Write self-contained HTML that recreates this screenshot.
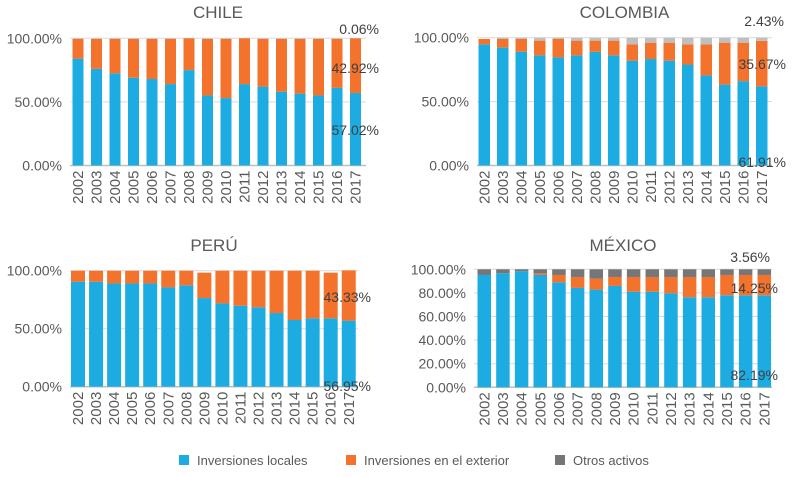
<!DOCTYPE html>
<html><head><meta charset="utf-8"><style>
body{margin:0;background:#fff;width:792px;height:473px;overflow:hidden;font-family:"Liberation Sans",sans-serif}
svg text{font-family:"Liberation Sans",sans-serif}
</style></head><body>
<svg id="c" width="792" height="473"></svg>
<script>
const years=["2002","2003","2004","2005","2006","2007","2008","2009","2010","2011","2012","2013","2014","2015","2016","2017"];
const chileLocal=[0.84,0.76,0.725,0.69,0.68,0.64,0.75,0.55,0.53,0.64,0.62,0.58,0.565,0.55,0.61,0.5702];
const chileExt=[0.155,0.235,0.27,0.305,0.315,0.355,0.25,0.445,0.465,0.36,0.375,0.415,0.43,0.445,0.385,0.4292];
const chileOther=[0.005,0.005,0.005,0.005,0.005,0.005,0,0.005,0.005,0,0.005,0.005,0.005,0.005,0.005,0.0006];
const colLocal=[0.948,0.922,0.89,0.862,0.846,0.862,0.89,0.862,0.82,0.833,0.82,0.79,0.705,0.633,0.66,0.6191];
const colExt=[0.042,0.068,0.1,0.115,0.144,0.115,0.087,0.115,0.128,0.128,0.141,0.158,0.243,0.328,0.301,0.3567];
const colOther=[0,0.01,0.01,0.023,0.01,0.023,0.023,0.023,0.052,0.039,0.039,0.052,0.052,0.039,0.039,0.0243];
const peruLocal=[0.905,0.905,0.89,0.89,0.89,0.856,0.874,0.764,0.718,0.698,0.684,0.635,0.575,0.589,0.589,0.5695];
const peruExt=[0.095,0.095,0.11,0.11,0.11,0.144,0.126,0.219,0.282,0.302,0.316,0.365,0.425,0.411,0.394,0.4333];
const peruOther=[0,0,0,0,0,0,0,0,0,0,0,0,0,0,0,0];
const mexLocal=[0.952,0.966,0.983,0.952,0.89,0.842,0.828,0.859,0.81,0.81,0.797,0.763,0.763,0.78,0.78,0.78];
const mexExt=[0,0,0,0.014,0.062,0.093,0.093,0.076,0.125,0.125,0.138,0.172,0.172,0.172,0.172,0.172];
const mexOther=[0.048,0.034,0.017,0.034,0.048,0.065,0.079,0.065,0.065,0.065,0.065,0.065,0.065,0.048,0.048,0.048];
const chileTicks=["0.00%","50.00%","100.00%"];
const mexTicks=["0.00%","20.00%","40.00%","60.00%","80.00%","100.00%"];
const chileLabels=["0.06%","42.92%","57.02%"];
const colLabels=["2.43%","35.67%","61.91%"];
const peruLabels=["43.33%","56.95%"];
const mexLabels=["3.56%","14.25%","82.19%"];

const NS="http://www.w3.org/2000/svg";
const svg=document.getElementById('c');
const COL=["#1dace2","#f3722c","#bfbfbf"];
function mk(tag,attrs,parent){const e=document.createElementNS(NS,tag);for(const k in attrs)e.setAttribute(k,attrs[k]);(parent||svg).appendChild(e);return e;}
function panel(p){
  const g=mk('g',{});
  
  
  const y=v=>p.y0-(p.y0-p.y1)*v;
  const x=i=>p.bx0+i*p.pitch;
  const t=mk('text',{x:(p.ax0+p.ax1)/2,y:p.titleY,'text-anchor':'middle','font-size':17,fill:'#595959'},g);
  t.textContent=p.title;
  
  
  p.ticks.forEach((lab,i)=>{
    const v=i/(p.ticks.length-1);
    const gl=mk('line',{x1:p.ax0,x2:p.ax1,y1:y(v),y2:y(v),stroke:i==0?'#bfbfbf':'#d9d9d9','stroke-width':i==0?1.5:1},g);
    
    
    const tl=mk('text',{x:p.ax0-8,y:y(v)+5,'text-anchor':'end','font-size':14,fill:'#595959'},g);
    tl.textContent=lab;
    
    
  });
  years.forEach((yr,i)=>{
    let acc=0;
    [p.local[i],p.ext[i],p.other[i]].forEach((v,s)=>{
      if(v<=0)return;
      const r=mk('rect',{x:x(i),width:p.bw,y:y(acc+v),height:y(acc)-y(acc+v),fill:s==2&&p.dark?'#747679':COL[s]},g);
      
      
      acc+=v;
    });
    const cx=x(i)+p.bw/2;
    const yl=mk('text',{x:0,y:0,'text-anchor':'end','font-size':15,fill:'#595959',transform:`translate(${cx+5},${p.y0+5}) rotate(-90)`},g);
    yl.textContent=yr;
    
    
  });
  p.labels.forEach((lab,i)=>{
    const l=mk('text',{x:p.lx[i],y:p.ly[i],'text-anchor':'end','font-size':14,fill:'#404040'},g);
    l.textContent=lab;
    
    
  });
}
panel({name:'chile',title:'CHILE',titleY:18,ax0:70,ax1:366,y0:165.5,y1:38.3,bx0:72.5,pitch:18.5,bw:11,ticks:chileTicks,local:chileLocal,ext:chileExt,other:chileOther,labels:chileLabels,lx:[379,379,379],ly:[34,73,135]});
panel({name:'colombia',title:'COLOMBIA',titleY:18,ax0:477,ax1:772,y0:165.5,y1:37.7,bx0:478.5,pitch:18.5,bw:11.5,ticks:chileTicks,local:colLocal,ext:colExt,other:colOther,labels:colLabels,lx:[784,786,786],ly:[26,69,167]});
panel({name:'peru',title:'PERÚ',titleY:251,ax0:70,ax1:358,y0:386.7,y1:270.7,bx0:71,pitch:18.05,bw:14,ticks:chileTicks,local:peruLocal,ext:peruExt,other:peruOther,labels:peruLabels,lx:[371,371],ly:[302,391]});
panel({name:'mexico',title:'MÉXICO',titleY:251,ax0:474,ax1:772,y0:387.3,y1:269.3,bx0:477.5,pitch:18.67,bw:13.5,ticks:mexTicks,local:mexLocal,ext:mexExt,other:mexOther,dark:true,labels:mexLabels,lx:[770,778,778],ly:[262,293,380]});

const leg=[["Inversiones locales","#1dace2",179,197],["Inversiones en el exterior","#f3722c",346,364],["Otros activos","#747679",555,573]];
leg.forEach(([t,c,sx,tx])=>{
  const r=mk('rect',{x:sx,y:455,width:10,height:10,fill:c});
  
  
  const tt=mk('text',{x:tx,y:465,'font-size':13,fill:'#595959'});
  tt.textContent=t;
  
  
});
</script>
</body></html>
